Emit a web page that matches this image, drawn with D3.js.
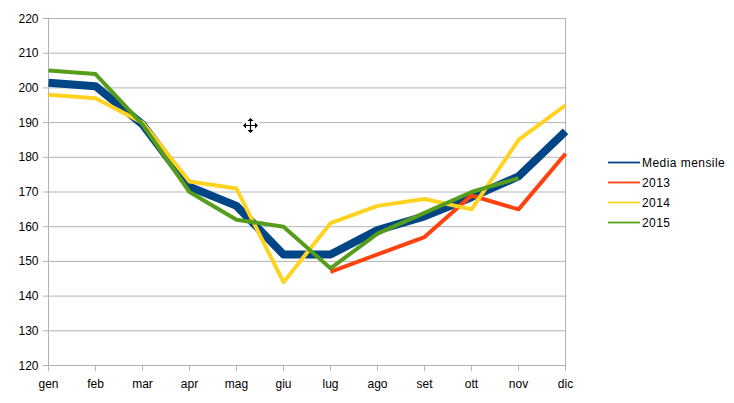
<!DOCTYPE html>
<html><head><meta charset="utf-8">
<script src="https://d3js.org/d3.v7.min.js"></script>
<style>html,body{margin:0;padding:0;background:#fff}svg{display:block}text{font-family:"Liberation Sans",Arial,sans-serif;font-size:12px;fill:#000}</style>
</head><body><script>
const months = ["gen","feb","mar","apr","mag","giu","lug","ago","set","ott","nov","dic"];
const yTicks = [120,130,140,150,160,170,180,190,200,210,220];
const media = [201.5,200.5,189.5,171.5,166,152,152,159,163,168.5,174.5,187.5];
const y2013 = [null,null,null,null,null,null,147,152,157,169,165,181];
const y2014 = [198,197,190,173,171,144,161,166,168,165,185,195];
const y2015 = [205,204,189.5,170,162,160,148,158,164,170,174,null];
const seriesNames = ["Media mensile","2013","2014","2015"];
const seriesValues = [media,y2013,y2014,y2015];
const seriesColors = ["#004586","#ff420e","#ffd320","#579d1c"];
const seriesWidths = [8,4,4,4];

const W=734,H=403;
const svg=d3.select("body").append("svg").attr("width",W).attr("height",H);
const x=d3.scalePoint().domain(months).range([48.5,565.5]);
const y=d3.scaleLinear().domain([120,220]).range([365.5,18.5]);
const grid="#b3b3b3";

svg.append("g").selectAll("line").data(yTicks).join("line")
 .attr("x1",43).attr("x2",565.5).attr("y1",d=>y(d)).attr("y2",d=>y(d))
 .attr("stroke",grid).attr("stroke-width",1);
svg.append("line").attr("x1",48.5).attr("x2",48.5).attr("y1",18).attr("y2",371).attr("stroke",grid);
svg.append("line").attr("x1",565.5).attr("x2",565.5).attr("y1",18).attr("y2",371).attr("stroke",grid);
svg.append("g").selectAll("line").data(months).join("line")
 .attr("x1",d=>x(d)).attr("x2",d=>x(d)).attr("y1",365.5).attr("y2",371).attr("stroke",grid);

svg.append("g").selectAll("text").data(yTicks).join("text")
 .attr("x",38.5).attr("y",d=>y(d)+4).attr("text-anchor","end").text(d=>d);
svg.append("g").selectAll("text").data(months).join("text")
 .attr("x",d=>x(d)).attr("y",387.5).attr("text-anchor","middle").text(d=>d);

const line=d3.line().defined(d=>d!=null).x((d,i)=>x(months[i])).y(d=>y(d)).curve(d3.curveLinear);
svg.append("g").selectAll("path").data(seriesValues).join("path")
 .attr("d",line).attr("fill","none")
 .attr("stroke",(d,i)=>seriesColors[i]).attr("stroke-width",(d,i)=>seriesWidths[i])
 .attr("stroke-linejoin","round");

const leg=svg.append("g").selectAll("g").data(seriesNames).join("g")
 .attr("transform",(d,i)=>`translate(608,${162.5+i*20})`);
leg.append("line").attr("x1",0).attr("x2",32).attr("stroke",(d,i)=>seriesColors[i]).attr("stroke-width",1.8);
leg.append("text").attr("x",34).attr("y",4.5).attr("letter-spacing",0.45).text(d=>d);

// cursor glyph in the screenshot
const c=svg.append("g").attr("transform","translate(250.5,125.5)");
c.append("circle").attr("r",9).attr("fill","#fff");
c.append("path").attr("d","M-6.5 0H6.5M0 -6.5V6.5").attr("stroke","#000").attr("stroke-width",1.2).attr("fill","none");
c.append("path").attr("d","M-7.5 0L-4.5 -3V3ZM7.5 0L4.5 -3V3ZM0 -7.5L-3 -4.5H3ZM0 7.5L-3 4.5H3Z").attr("fill","#000");
</script></body></html>
